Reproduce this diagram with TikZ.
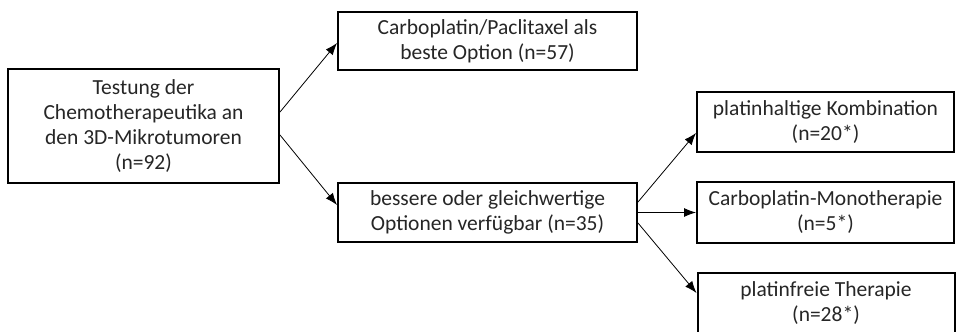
\documentclass[tikz,border=0pt]{standalone}
\usepackage{fontspec}
\setmainfont{Carlito}
\usetikzlibrary{arrows.meta}
\begin{document}
\begin{tikzpicture}[x=1pt,y=-1pt,
  box/.style={draw=black,line width=2pt,fill=white,align=center,inner sep=0pt,
    font=\fontsize{21.5pt}{25pt}\selectfont,text=black!85},
  conn/.style={line width=0.8pt,-{Latex[length=12pt,width=9pt]}}]
\useasboundingbox (0,0) rectangle (956,332);
\node[box,minimum width=271pt,minimum height=114pt] (A) at (143.5,126)
  {Testung der\\Chemotherapeutika an\\den 3D-Mikrotumoren\\(n=92)};
\node[box,minimum width=299pt,minimum height=58pt] (B) at (487.5,41)
  {Carboplatin/Paclitaxel als\\beste Option (n=57)};
\node[box,minimum width=299pt,minimum height=59pt] (C) at (487.5,212.5)
  {bessere oder gleichwertige\\Optionen verfügbar (n=35)};
\node[box,minimum width=257pt,minimum height=60pt] (D) at (825.5,122)
  {platinhaltige Kombination\\(n=20*)};
\node[box,minimum width=257pt,minimum height=61pt] (E) at (825.5,212.5)
  {Carboplatin-Monotherapie\\(n=5*)};
\node[box,minimum width=257pt,minimum height=61pt] (F) at (826,303.5)
  {platinfreie Therapie\\(n=28*)};
\draw[conn] ([yshift=14pt]A.east) -- ([yshift=-2pt]B.west);
\draw[conn] ([yshift=-9pt]A.east) -- ([yshift=7.5pt]C.west);
\draw[conn] ([yshift=10.5pt]C.east) -- ([yshift=-11pt]D.west);
\draw[conn] (C.east) -- (E.west);
\draw[conn] ([yshift=-10.5pt]C.east) -- ([yshift=10.5pt]F.west);
\end{tikzpicture}
\end{document}
